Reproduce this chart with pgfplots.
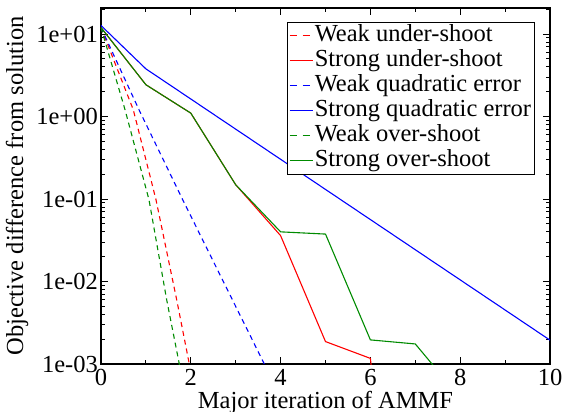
\documentclass[border=0pt]{standalone}
\usepackage{fontspec}
\setmainfont{Liberation Serif}
\usepackage{pgfplots}
\pgfplotsset{compat=1.18}
\definecolor{ggreen}{rgb}{0,0.545,0}
\begin{document}
\begin{tikzpicture}
\begin{axis}[
  name=ax,
  scale only axis, width=449pt, height=356pt,
  ymode=log, xmin=0, xmax=10, ymin=1e-3, ymax=20.7,
  xtick={0,2,4,6,8,10}, minor xtick={1,3,5,7,9},
  xticklabels={0,2,4,6,8,10},
  ytick={1e-3,1e-2,1e-1,1,10},
  yticklabels={1e-03,1e-02,1e-01,1e+00,1e+01},
  minor ytick={2e-3,3e-3,4e-3,5e-3,6e-3,7e-3,8e-3,9e-3,2e-2,3e-2,4e-2,5e-2,6e-2,7e-2,8e-2,9e-2,0.2,0.3,0.4,0.5,0.6,0.7,0.8,0.9,2,3,4,5,6,7,8,9,20},
  /pgf/number format/assume math mode=true,
  tick label style={font=\fontsize{24.5}{24.5}\selectfont},
  yticklabel style={inner xsep=3pt},
  xticklabel style={inner ysep=5pt},
  label style={font=\fontsize{24.5}{24.5}\selectfont},
  xlabel={Major iteration of AMMF},
  ylabel={Objective difference from solution},
  xlabel style={at={(axis description cs:0.5,-0.1236)}, anchor=base},
  ylabel style={at={(axis description cs:-0.187,0.5)}, anchor=center},
  axis line style={line width=1.3pt},
  major tick length=7pt, minor tick length=4pt,
  every tick/.style={black, line width=1pt},
  tick align=inside,
  legend cell align=left,
  legend style={at={(0.9666,0.9615)}, anchor=north east, draw=black, line width=0.8pt,
    font=\fontsize{24.5}{24.5}\selectfont, inner xsep=2pt, inner ysep=1pt, row sep=0pt,
    nodes={inner xsep=1.5pt, inner ysep=1pt, text height=17pt, text depth=6pt}},
  legend image code/.code={\draw[#1] (0pt,0pt) -- (23pt,0pt);},
]
\addplot[red, line width=1.1pt, dash pattern=on 5pt off 4pt,
  legend image code/.code={\draw[red, line width=1.2pt, solid] (0pt,0pt) -- (7pt,0pt) (13pt,0pt) -- (20pt,0pt);}] coordinates {
(0,12) (0.719,1.21) (1.225,0.098) (1.686,0.006) (1.967,0.001) (2.3,1.2e-4)};
\addlegendentry{Weak under-shoot}
\addplot[red, line width=1.1pt] coordinates {
(0,12.0) (1,2.43) (2,1.10) (3,0.149) (4,0.036) (5,0.00187) (6,0.00117) (7,1e-8)};
\addlegendentry{Strong under-shoot}
\addplot[blue, line width=1.1pt, dash pattern=on 5pt off 4pt,
  legend image code/.code={\draw[blue, line width=1.2pt, solid] (0pt,0pt) -- (7pt,0pt) (13pt,0pt) -- (20pt,0pt);}] coordinates {
(0,12) (0.846,1.21) (1.82,0.098) (3.637,0.001) (4,4e-4)};
\addlegendentry{Weak quadratic error}
\addplot[blue, line width=1.1pt] coordinates {
(0,12.7) (1,3.785) (2,1.632) (3,0.7035) (4,0.3032) (5,0.1307) (6,0.05636) (7,0.02429) (8,0.01047) (9,0.004516) (10,0.001946)};
\addlegendentry{Strong quadratic error}
\addplot[ggreen, line width=1.1pt, dash pattern=on 5pt off 4pt,
  legend image code/.code={\draw[ggreen, line width=1.2pt, solid] (0pt,0pt) -- (7pt,0pt) (13pt,0pt) -- (20pt,0pt);}] coordinates {
(0,12) (0.535,1.21) (1.069,0.098) (1.463,0.006) (1.744,0.001) (2.0,1.9e-4)};
\addlegendentry{Weak over-shoot}
\addplot[ggreen, line width=1.1pt] coordinates {
(0,12.0) (1,2.43) (2,1.10) (3,0.149) (4,0.040) (5,0.0376) (6,0.00196) (7,0.00175) (8,0.00039)};
\addlegendentry{Strong over-shoot}
\end{axis}
\pgfresetboundingbox
\path[use as bounding box] ([xshift=-101pt,yshift=-48pt]ax.south west) rectangle ([xshift=13pt,yshift=8pt]ax.north east);
\end{tikzpicture}
\end{document}
